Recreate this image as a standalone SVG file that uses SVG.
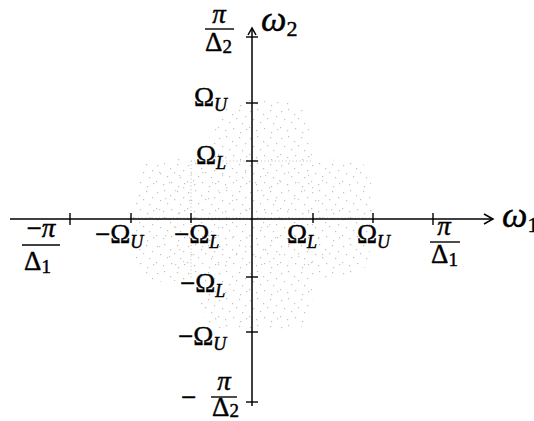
<svg xmlns="http://www.w3.org/2000/svg" width="534" height="421" viewBox="0 0 534 421">
<style>
.ax{stroke:#000;stroke-width:1.5;fill:none}
.tk{stroke:#000;stroke-width:1.4}
.dot{stroke:#999;stroke-width:1;stroke-dasharray:1 2.5;fill:none}
.t{font-family:"Liberation Serif","Times New Roman",serif;font-size:27px;fill:#000;stroke:#000;stroke-width:0.45}
.s{font-size:18px;font-style:italic}
.n{font-size:19px;font-style:normal}
.i{font-style:italic}
.w{font-size:36px;font-style:italic}
.wn{font-size:22px;font-style:normal}
.bar{stroke:#000;stroke-width:1.4}
</style>
<defs>
<pattern id="pa" patternUnits="userSpaceOnUse" width="31" height="27">
<g fill="#999">
<rect x="2" y="3" width="1.2" height="1.2"/><rect x="9" y="1" width="1.2" height="1.2"/><rect x="15" y="6" width="1.2" height="1.2"/>
<rect x="22" y="2" width="1.2" height="1.2"/><rect x="28" y="8" width="1.2" height="1.2"/><rect x="5" y="11" width="1.2" height="1.2"/>
<rect x="12" y="14" width="1.2" height="1.2"/><rect x="19" y="10" width="1.2" height="1.2"/><rect x="25" y="15" width="1.2" height="1.2"/>
<rect x="1" y="19" width="1.2" height="1.2"/><rect x="8" y="22" width="1.2" height="1.2"/><rect x="16" y="20" width="1.2" height="1.2"/>
<rect x="23" y="24" width="1.2" height="1.2"/><rect x="29" y="21" width="1.2" height="1.2"/>
</g>
</pattern>
<pattern id="pb" patternUnits="userSpaceOnUse" width="43" height="37">
<g fill="#aaa">
<rect x="3" y="5" width="1.2" height="1.2"/><rect x="11" y="2" width="1.2" height="1.2"/><rect x="36" y="13" width="1.2" height="1.2"/>
<rect x="7" y="27" width="1.2" height="1.2"/><rect x="21" y="32" width="1.2" height="1.2"/><rect x="30" y="24" width="1.2" height="1.2"/>
<rect x="17" y="15" width="1.2" height="1.2"/><rect x="40" y="34" width="1.2" height="1.2"/>
</g>
</pattern>
</defs>

<g id="stipple" opacity="0.6">
<path d="M150,160 L205,158 Q212,102 245,100 L298,103 Q312,112 312,158 L360,162 Q375,168 372,220 Q372,272 355,276 L312,280 Q316,330 290,330 L215,328 Q196,322 196,280 L150,282 Q133,276 133,220 Q133,165 150,160 Z" fill="url(#pa)"/>
<path d="M160,170 L300,168 Q330,170 340,220 Q330,268 300,268 L170,268 Q145,260 148,220 Q148,175 160,170 Z" fill="url(#pb)"/>
<line class="dot" x1="191" y1="161" x2="313" y2="161"/>
<line class="dot" x1="191" y1="161" x2="191" y2="278"/>
<line class="dot" x1="131" y1="218" x2="373" y2="218"/>
</g>

<g id="connectors">
<line class="ax" x1="10" y1="219" x2="492" y2="219"/>
<path class="ax" d="M484,214 L493,219 L484,224"/>
<line class="ax" x1="252" y1="29" x2="252" y2="406"/>
<path class="ax" d="M248,35 L252,28 L256,35"/>
</g>

<g id="ticks">
<line class="tk" x1="70" y1="213" x2="70" y2="225"/>
<line class="tk" x1="131" y1="213" x2="131" y2="223"/>
<line class="tk" x1="191" y1="213" x2="191" y2="223"/>
<line class="tk" x1="313" y1="213" x2="313" y2="223"/>
<line class="tk" x1="373" y1="213" x2="373" y2="223"/>
<line class="tk" x1="433" y1="213" x2="433" y2="225"/>
<line class="tk" x1="246" y1="37" x2="258" y2="37"/>
<line class="tk" x1="246" y1="103" x2="258" y2="103"/>
<line class="tk" x1="246" y1="161" x2="258" y2="161"/>
<line class="tk" x1="246" y1="277" x2="258" y2="277"/>
<line class="tk" x1="246" y1="332" x2="258" y2="332"/>
<line class="tk" x1="246" y1="402" x2="258" y2="402"/>
</g>

<g id="axis-labels">
<text class="t w" x="502" y="227">ω<tspan class="wn" dy="5">1</tspan></text>
<text class="t w" x="261" y="31">ω<tspan class="wn" dy="5">2</tspan></text>
</g>

<g id="h-labels">
<g id="lbl-mpiD1">
<text class="t" x="41" y="237" text-anchor="middle">−<tspan class="i">π</tspan></text>
<line class="bar" x1="22" y1="245" x2="60" y2="245"/>
<text class="t" x="24" y="270">Δ<tspan class="n" dy="3">1</tspan></text>
</g>
<g id="lbl-mOU"><text class="t" x="95" y="243">−Ω<tspan class="s" dy="5">U</tspan></text></g>
<g id="lbl-mOL"><text class="t" x="174" y="243">−Ω<tspan class="s" dy="5">L</tspan></text></g>
<g id="lbl-OL"><text class="t" x="287" y="243">Ω<tspan class="s" dy="5">L</tspan></text></g>
<g id="lbl-OU"><text class="t" x="357" y="243">Ω<tspan class="s" dy="5">U</tspan></text></g>
<g id="lbl-piD1">
<text class="t i" x="444" y="235" text-anchor="middle">π</text>
<line class="bar" x1="430" y1="242" x2="460" y2="242"/>
<text class="t" x="431" y="263">Δ<tspan class="n" dy="3">1</tspan></text>
</g>
</g>

<g id="v-labels">
<g id="lbl-piD2">
<text class="t i" x="219" y="23" text-anchor="middle">π</text>
<line class="bar" x1="205" y1="29" x2="234" y2="29"/>
<text class="t" x="205" y="51">Δ<tspan class="n" dy="2">2</tspan></text>
</g>
<g id="lbl-vOU"><text class="t" x="194" y="106">Ω<tspan class="s" dy="5">U</tspan></text></g>
<g id="lbl-vOL"><text class="t" x="196" y="164">Ω<tspan class="s" dy="5">L</tspan></text></g>
<g id="lbl-vmOL"><text class="t" x="180" y="292">−Ω<tspan class="s" dy="5">L</tspan></text></g>
<g id="lbl-vmOU"><text class="t" x="178" y="345">−Ω<tspan class="s" dy="5">U</tspan></text></g>
<g id="lbl-mpiD2">
<text class="t" x="181" y="406">−</text>
<text class="t i" x="224" y="390" text-anchor="middle">π</text>
<line class="bar" x1="211" y1="397" x2="237" y2="397"/>
<text class="t" x="212" y="416">Δ<tspan class="n" dy="1">2</tspan></text>
</g>
</g>
</svg>
